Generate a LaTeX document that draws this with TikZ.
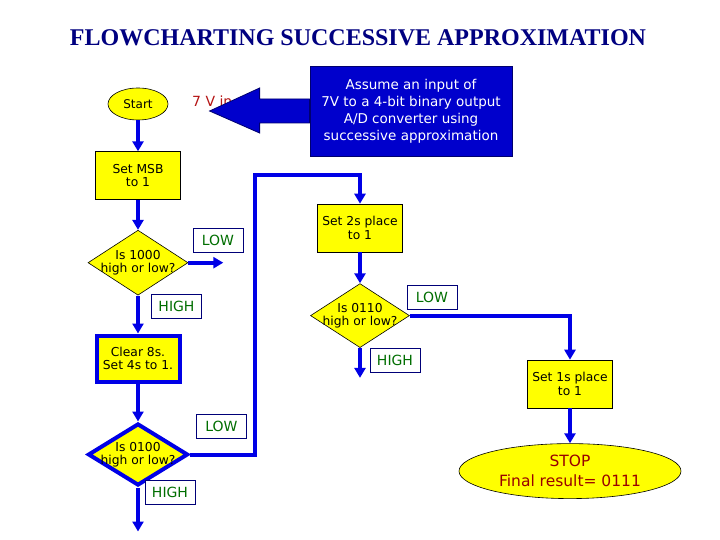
\documentclass[tikz,border=0pt]{standalone}
\usepackage{fontspec}
\usepackage{tikz}
\usetikzlibrary{shapes.geometric,arrows.meta,positioning,calc}
\newfontfamily\flowfont{DejaVu Sans}
\newfontfamily\titlefont{Liberation Serif}
\definecolor{flowBlue}  {RGB}{0,0,230}
\definecolor{noteBlue}  {RGB}{0,0,204}
\definecolor{noteEdge}  {RGB}{0,0,110}
\definecolor{flowYellow}{RGB}{255,255,0}
\definecolor{tagGreen}  {RGB}{0,110,0}
\definecolor{tagEdge}   {RGB}{0,0,120}
\definecolor{stopRed}   {RGB}{153,0,0}
\definecolor{inRed}     {RGB}{180,20,20}
\definecolor{titleNavy} {RGB}{0,0,128}

\begin{document}
\begin{tikzpicture}[x=1pt, y=-1pt,
      proc/.style={draw=black, line width=0.6pt, fill=flowYellow, align=center,
                   inner sep=0pt, minimum width=85pt, minimum height=48pt,
                   font=\flowfont\fontsize{12.3}{13.5}\selectfont},
      hot/.style={draw=flowBlue, line width=4pt},
      decision/.style={diamond, draw=black, line width=0.6pt, fill=flowYellow,
                   inner sep=0pt, minimum width=100pt, minimum height=65pt},
      dtext/.style={align=center, inner sep=0pt,
                   font=\flowfont\fontsize{12.3}{12.5}\selectfont},
      terminal/.style={ellipse, draw=black, line width=0.6pt, fill=flowYellow,
                   align=center, inner sep=0pt},
      tag/.style={draw=tagEdge, line width=0.8pt, fill=white, text=tagGreen,
                  inner sep=0pt, minimum width=50pt, minimum height=24pt,
                  font=\flowfont\fontsize{14}{16}\selectfont},
      flow/.style={draw=flowBlue, line width=4pt, -{Triangle[length=10pt,width=11pt]}},
      bigarrow/.style={fill=noteBlue, draw=noteEdge, line width=0.8pt}]

    \useasboundingbox (0,0) rectangle (720,540);

    \node[font=\titlefont\bfseries\fontsize{24}{28}\selectfont, text=titleNavy]
      (title) at (358,38) {FLOWCHARTING SUCCESSIVE APPROXIMATION};

    % left column
    \node[terminal, minimum width=60pt, minimum height=32pt,
          font=\flowfont\fontsize{12}{13.5}\selectfont] (start) at (138,104) {Start};
    \node[proc, below=31pt of start] (msb) {Set MSB\\to 1};
    \node[decision, below=30pt of msb,
          label={[dtext]center:Is 1000\\high or low?}] (dia1) {};
    \node[proc, hot, minimum width=83pt, minimum height=46pt,
          below=38pt of dia1] (clear) {Clear 8s.\\Set 4s to 1.};
    \node[decision, hot, minimum width=100pt, minimum height=62pt, below=38pt of clear,
          label={[dtext]center:Is 0100\\high or low?}] (dia2) {};

    % middle column
    \node[proc] (set2) at (360,228) {Set 2s place\\to 1};
    \node[decision, minimum width=99pt, minimum height=64pt, below=31pt of set2,
          label={[dtext]center:Is 0110\\high or low?}] (dia3) {};

    % right column
    \node[proc] (set1) at (570,384) {Set 1s place\\to 1};
    \node[terminal, minimum width=222pt, minimum height=55pt, text=stopRed,
          font=\flowfont\fontsize{15.5}{20}\selectfont,
          below=35pt of set1] (stop) {STOP\\Final result= 0111};

    % note and its arrow
    \node[anchor=base west, inner sep=0pt, text=inRed,
          font=\flowfont\fontsize{14}{16}\selectfont] (vin) at (192,107) {7 V in};
    \node[fill=noteBlue, draw=noteEdge, line width=0.8pt, text=white, align=center,
          minimum width=202pt, minimum height=90pt, inner sep=0pt,
          font=\flowfont\fontsize{13.5}{17}\selectfont] (info) at (411,111)
      {Assume an input of\\7V to a 4-bit binary output\\A/D converter using\\successive approximation};
    \filldraw[bigarrow] (info.west) ++(0,-12) -- ++(-50,0) -- ++(0,-11) -- ++(-50,23)
      -- ++(50,22) -- ++(0,-10) -- ++(50,0) -- cycle;

    % HIGH / LOW tags
    \node[tag] (low1)  at (218,240.5) {LOW};
    \node[tag] (high1) at (176.5,306) {HIGH};
    \node[tag] (low3)  at (221.5,426.5) {LOW};
    \node[tag] (high3) at (170,492) {HIGH};
    \node[tag] (low2)  at (432,297.5) {LOW};
    \node[tag] (high2) at (395,360) {HIGH};

    \coordinate[right=35pt of dia1.east] (stub1);
    \coordinate[below=44pt of dia2.south] (stub2);
    \coordinate[below=30pt of dia3.south] (stub3);
    \coordinate (back) at (255,175);

    \draw[flow] (start) -- (msb);
    \draw[flow] (msb) -- (dia1);
    \draw[flow] (dia1.east) -- (stub1);
    \draw[flow] (dia1) -- (clear);
    \draw[flow] (clear) -- (dia2);
    \draw[flow] (dia2.south) -- (stub2);
    \draw[flow] (dia2.east) -| (back) -| (set2.north);
    \draw[flow] (set2) -- (dia3);
    \draw[flow] (dia3.south) -- (stub3);
    \draw[flow] (dia3.east) -| (set1.north);
    \draw[flow] (set1) -- (stop);
  \end{tikzpicture}
\end{document}
